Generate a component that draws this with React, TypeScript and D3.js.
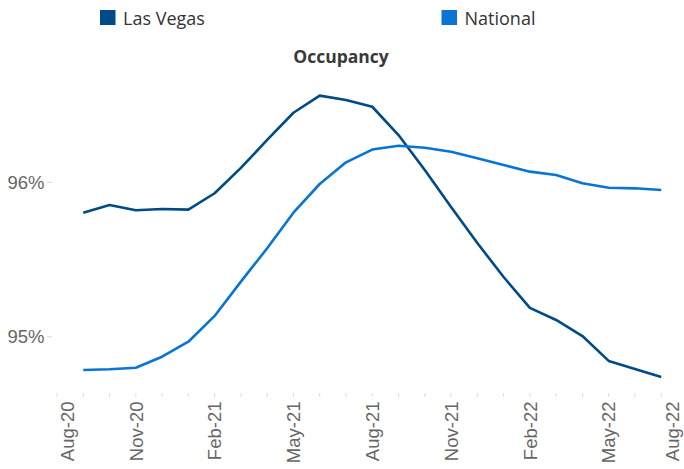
import React from "react";
import * as d3 from "d3";

const allMonths = [
  "Aug-20","Sep-20","Oct-20","Nov-20","Dec-20","Jan-21","Feb-21","Mar-21","Apr-21",
  "May-21","Jun-21","Jul-21","Aug-21","Sep-21","Oct-21","Nov-21","Dec-21","Jan-22",
  "Feb-22","Mar-22","Apr-22","May-22","Jun-22","Jul-22","Aug-22",
];
const dataMonths = allMonths.slice(1, 24);
const lasVegas = [
  95.803, 95.853, 95.819, 95.827, 95.823, 95.929, 96.093, 96.274, 96.45, 96.561,
  96.533, 96.489, 96.306, 96.08, 95.84, 95.607, 95.387, 95.187, 95.109, 95.005,
  94.844, 94.792, 94.74,
];
const national = [
  94.785, 94.79, 94.8, 94.871, 94.968, 95.135, 95.357, 95.573, 95.803, 95.989,
  96.129, 96.212, 96.237, 96.224, 96.198, 96.155, 96.112, 96.069, 96.047, 95.994,
  95.965, 95.961, 95.95,
];
const tickLabels = ["Aug-20","Nov-20","Feb-21","May-21","Aug-21","Nov-21","Feb-22","May-22","Aug-22"];
const yTicks = [95, 96];
const seriesNames = ["Las Vegas", "National"];
const colors = ["#004A87", "#0A74D2"];

const W = 684;
const H = 469;

export default function App() {
  const x = d3.scalePoint<string>().domain(allMonths).range([57, 687.5]);
  const y = d3.scaleLinear().domain([95, 96]).range([336.8, 182.3]);
  const line = d3
    .line<number>()
    .x((_, i) => x(dataMonths[i]) as number)
    .y((d) => y(d));
  const series = [lasVegas, national];
  const legendX = [100, 441.5];
  const font = "'Open Sans', sans-serif";
  const axisFont = "'Liberation Sans', Arial, sans-serif";

  return (
    <svg
      width={W}
      height={H}
      viewBox={`0 0 ${W} ${H}`}
      style={{ position: "absolute", left: 0, top: 0, background: "#fff" }}
    >
      {/* legend */}
      {seriesNames.map((name, i) => (
        <g key={name}>
          <rect x={legendX[i]} y={10} width={15.5} height={15} fill={colors[i]} />
          <text
            x={legendX[i] + 23}
            y={25}
            fontFamily={font}
            fontSize={18}
            fill="#333"
          >
            {name}
          </text>
        </g>
      ))}
      {/* title */}
      <text
        x={341}
        y={63.3}
        textAnchor="middle"
        fontFamily={font}
        fontSize={17.5}
        fontWeight="bold"
        fill="#3a3a3a"
      >
        Occupancy
      </text>
      {/* y axis */}
      {yTicks.map((t) => (
        <g key={t}>
          <line x1={47} x2={52} y1={y(t)} y2={y(t)} stroke="#d9d9d9" strokeWidth={1} />
          <text
            x={44.5}
            y={y(t)}
            dy="0.35em"
            textAnchor="end"
            fontFamily={axisFont}
            fontSize={18.5}
            fill="#666"
          >
            {t}%
          </text>
        </g>
      ))}
      {/* x ticks */}
      {allMonths.map((m) => (
        <line
          key={m}
          x1={x(m)}
          x2={x(m)}
          y1={393}
          y2={397}
          stroke="#dcdcdc"
          strokeWidth={1}
        />
      ))}
      {tickLabels.map((m) => {
        const cx = Math.max(67.3, Math.min(672.5, x(m) as number));
        const bx = cx + 6.7;
        return (
          <text
            key={m}
            transform={`translate(${bx},401.5) rotate(-90)`}
            textAnchor="end"
            fontFamily={axisFont}
            fontSize={18.5}
            fill="#666"
          >
            {m}
          </text>
        );
      })}
      {/* lines */}
      {series.map((s, i) => (
        <path
          key={i}
          d={line(s) || ""}
          fill="none"
          stroke={colors[i]}
          strokeWidth={2.6}
          strokeLinejoin="round"
        />
      ))}
    </svg>
  );
}
